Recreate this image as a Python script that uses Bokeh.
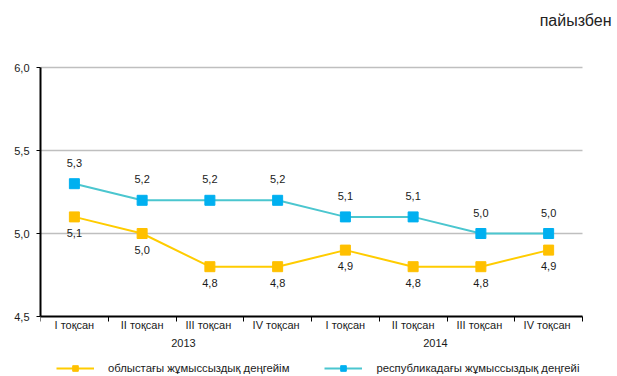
from bokeh.plotting import figure
from bokeh.models import (Range1d, FixedTicker, Legend, LegendItem, Label)
from bokeh.core.properties import value
from bokeh.embed import file_html
from bokeh.resources import INLINE

# ---- data ----
quarters = ["I тоқсан", "II тоқсан", "III  тоқсан", "IV  тоқсан",
            "I тоқсан", "II тоқсан", "III  тоқсан", "IV  тоқсан"]
years = ["2013", "2014"]
regional = [5.1, 5.0, 4.8, 4.8, 4.9, 4.8, 4.8, 4.9]
republic = [5.3, 5.2, 5.2, 5.2, 5.1, 5.1, 5.0, 5.0]
y_ticks = [4.5, 5.0, 5.5, 6.0]
name_regional = "облыстағы жұмыссыздық деңгейім"
name_republic = "республикадағы жұмыссыздық деңгейі"
unit_text = "пайызбен"

FONT = "Liberation Sans"
TXT = "#1a1a1a"

n = len(quarters)
xs = [i + 0.5 for i in range(n)]

def fmt(v):
    return f"{v:.1f}".replace(".", ",")

W, H = 617, 376
LEFT = 40
px_x = 542 / n                     # pixels per category
px_y = 249 / (y_ticks[-1] - y_ticks[0])   # pixels per unit
x_end = n + (W - LEFT - 542) / px_x
y_top = y_ticks[-1] + 67 / px_y
y_bot = y_ticks[0] - (H - 316) / px_y

p = figure(width=W, height=H, output_backend="svg", toolbar_location=None,
           x_range=Range1d(0, x_end), y_range=Range1d(y_bot, y_top),
           min_border_left=LEFT, min_border_right=0, min_border_top=0,
           min_border_bottom=0)
p.outline_line_color = None
p.background_fill_color = "white"
p.border_fill_color = "white"

# x axis at the bottom of the value range
xa = p.xaxis[0]
xa.fixed_location = y_ticks[0]
xa.bounds = (0, n)
xa.ticker = FixedTicker(ticks=xs, minor_ticks=list(range(n + 1)))
xa.major_label_overrides = {x: q for x, q in zip(xs, quarters)}
xa.major_tick_out = 0
xa.major_tick_in = 0
xa.minor_tick_out = 5
xa.minor_tick_in = 0
xa.minor_tick_line_color = "black"
xa.minor_tick_line_width = 1
xa.axis_line_color = "black"
xa.axis_line_width = 2
xa.major_label_standoff = -3
xa.major_label_text_font = FONT
xa.major_label_text_font_size = "11px"
xa.major_label_text_color = TXT

ya = p.yaxis[0]
ya.bounds = (y_ticks[0], y_ticks[-1])
ya.ticker = FixedTicker(ticks=y_ticks)
ya.major_label_overrides = {t: fmt(t) for t in y_ticks}
ya.major_tick_out = 4
ya.major_tick_in = 0
ya.minor_tick_out = 0
ya.minor_tick_in = 0
ya.major_tick_line_color = "black"
ya.axis_line_color = "black"
ya.axis_line_width = 2
ya.major_label_standoff = 7
ya.major_label_text_font = FONT
ya.major_label_text_font_size = "11px"
ya.major_label_text_color = TXT

p.xgrid.visible = False
p.ygrid.ticker = FixedTicker(ticks=y_ticks[1:])
p.ygrid.cross_bounds = (0, n)
p.ygrid.grid_line_color = "#bfbfbf"
p.ygrid.grid_line_width = 1.5

# series
YEL = "#ffc000"
YEL_LINE = "#ffcc00"
BLUE = "#00b0f0"
TEAL = "#4bc6cf"

l1 = p.line(xs, regional, line_color=YEL_LINE, line_width=2)
s1 = p.scatter(xs, regional, marker="square", size=10, fill_color=YEL, line_color=YEL)
l2 = p.line(xs, republic, line_color=TEAL, line_width=2)
s2 = p.scatter(xs, republic, marker="square", size=10, fill_color=BLUE, line_color=BLUE)

p.text(xs, republic, text=[fmt(v) for v in republic], text_align="center",
       text_baseline="middle", y_offset=-21, text_font=value(FONT),
       text_font_size="11px", text_color=TXT)
p.text(xs, regional, text=[fmt(v) for v in regional], text_align="center",
       text_baseline="middle", y_offset=16, text_font=value(FONT),
       text_font_size="11px", text_color=TXT)

# year labels under the quarter labels
for yx, yr in zip([2.11, 5.83], years):
    p.add_layout(Label(x=yx, y=y_ticks[0], y_offset=-26, text=yr,
                       text_align="center", text_baseline="middle",
                       text_font=FONT, text_font_size="11px", text_color=TXT))

# unit label, top right
p.add_layout(Label(x=x_end, x_offset=-6, y=y_ticks[-1], y_offset=47,
                   text=unit_text, text_align="right", text_baseline="middle",
                   text_font=FONT, text_font_size="16px", text_color="#222222"))

legend = Legend(items=[LegendItem(label=name_regional, renderers=[l1, s1]),
                       LegendItem(label=name_republic, renderers=[l2, s2])],
                orientation="horizontal", location=(16, 1),
                glyph_width=38, glyph_height=14, label_standoff=14,
                spacing=35, padding=2, margin=0,
                label_text_font=FONT, label_text_font_size="11.3px",
                label_text_color=TXT, border_line_color=None,
                background_fill_alpha=0)
p.add_layout(legend, "center")

open("out.html", "w").write(file_html(p, INLINE))
